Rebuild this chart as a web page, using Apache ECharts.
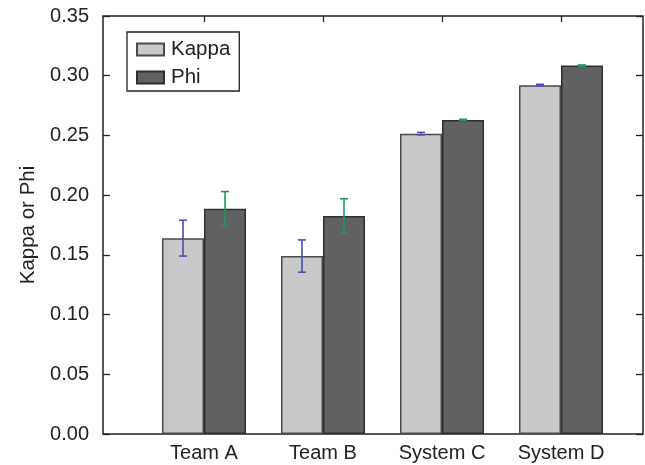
<!DOCTYPE html>
<html>
<head>
<meta charset="utf-8">
<script src="https://cdn.jsdelivr.net/npm/echarts@6/dist/echarts.min.js"></script>
<style>
  html, body { margin: 0; padding: 0; background: #fff; }
  #chart { width: 645px; height: 465px; }
</style>
</head>
<body>
<div id="chart"></div>
<script>
// data
const categories = ["Team A", "Team B", "System C", "System D"];
const kappa = [0.164, 0.149, 0.2515, 0.292];
const phi = [0.1887, 0.1825, 0.263, 0.3085];
const kappaLow = [0.149, 0.1355, 0.2505, 0.2912];
const kappaHigh = [0.179, 0.1625, 0.2525, 0.2928];
const phiLow = [0.1745, 0.168, 0.2625, 0.308];
const phiHigh = [0.203, 0.197, 0.2635, 0.309];
const yTicks = [0, 0.05, 0.1, 0.15, 0.2, 0.25, 0.3, 0.35];

const font = "Liberation Sans, Arial, sans-serif";
const barW = 42;

const chart = echarts.init(document.getElementById("chart"));

// error bar, offset to left (kappa) or right (phi) half of the group
function errorBar(color, shift) {
  return function (params, api) {
    const x = api.coord([api.value(0), 0])[0] + shift;
    const lo = api.coord([api.value(0), api.value(1)])[1];
    const hi = api.coord([api.value(0), api.value(2)])[1];
    const cap = 4;
    const style = { stroke: color, lineWidth: 1.6 };
    return {
      type: "group",
      children: [
        { type: "line", shape: { x1: x, y1: lo, x2: x, y2: hi }, style: style },
        { type: "line", shape: { x1: x - cap, y1: lo, x2: x + cap, y2: lo }, style: style },
        { type: "line", shape: { x1: x - cap, y1: hi, x2: x + cap, y2: hi }, style: style },
      ],
    };
  };
}

const option = {
  animation: false,
  textStyle: { fontFamily: font },
  legend: {
    left: 127,
    top: 32,
    orient: "vertical",
    data: ["Kappa", "Phi"],
    icon: "rect",
    itemWidth: 27,
    itemHeight: 12,
    itemGap: 7,
    padding: [7, 9, 3, 9],
    borderColor: "#222",
    borderWidth: 1.3,
    backgroundColor: "#fff",
    textStyle: { fontFamily: font, fontSize: 20.5, color: "#222", padding: [0, 0, 0, 2] },
  },
  grid: [
    // frame
    { left: 103, right: 2, top: 16, bottom: 31, show: true, borderColor: "#222", borderWidth: 1.5, backgroundColor: "transparent" },
    // bars
    { left: 144.5, right: 24.5, top: 16, bottom: 31 },
  ],
  xAxis: [
    { gridIndex: 0, type: "value", show: false, min: 0, max: 1 },
    {
      gridIndex: 1,
      type: "category",
      data: categories,
      position: "bottom",
      axisLine: { show: false },
      axisTick: { show: false },
      axisLabel: { fontFamily: font, fontSize: 20, color: "#222", margin: 9 },
    },
    {
      gridIndex: 1,
      type: "category",
      data: categories,
      position: "top",
      axisLine: { show: false },
      axisTick: { show: true, inside: true, alignWithLabel: true, length: 6, lineStyle: { color: "#222", width: 1.3 } },
      axisLabel: { show: false },
    },
  ],
  yAxis: [
    {
      gridIndex: 0,
      type: "value",
      min: 0,
      max: 0.35,
      interval: 0.05,
      name: "Kappa or Phi",
      nameLocation: "middle",
      nameGap: 64,
      nameTextStyle: { fontFamily: font, fontSize: 20.5, color: "#222" },
      axisLine: { show: false },
      axisTick: { show: true, inside: true, length: 7, lineStyle: { color: "#222", width: 1.3 } },
      splitLine: { show: false },
      axisLabel: {
        fontFamily: font,
        fontSize: 20,
        color: "#222",
        margin: 14,
        formatter: function (v) {
          const t = yTicks.find(function (y) { return Math.abs(y - v) < 1e-9; });
          return t === undefined ? "" : t.toFixed(2);
        },
      },
    },
    {
      gridIndex: 0,
      type: "value",
      position: "right",
      min: 0,
      max: 0.35,
      interval: 0.05,
      axisLine: { show: false },
      axisTick: { show: true, inside: true, length: 7, lineStyle: { color: "#222", width: 1.3 } },
      axisLabel: { show: false },
      splitLine: { show: false },
    },
    { gridIndex: 1, type: "value", min: 0, max: 0.35, show: false, splitLine: { show: false } },
  ],
  series: [
    {
      name: "Kappa",
      type: "bar",
      xAxisIndex: 1,
      yAxisIndex: 2,
      data: kappa,
      barWidth: barW,
      barGap: "0%",
      itemStyle: { color: "#c8c9cb", borderColor: "#4a4a4a", borderWidth: 1.5 },
    },
    {
      name: "Phi",
      type: "bar",
      xAxisIndex: 1,
      yAxisIndex: 2,
      data: phi,
      barWidth: barW,
      barGap: "0%",
      itemStyle: { color: "#616163", borderColor: "#2e2e2e", borderWidth: 1.5 },
    },
    {
      type: "custom",
      xAxisIndex: 1,
      yAxisIndex: 2,
      renderItem: errorBar("#4a4fa8", -barW / 2),
      data: categories.map(function (c, i) { return [i, kappaLow[i], kappaHigh[i]]; }),
      z: 10,
    },
    {
      type: "custom",
      xAxisIndex: 1,
      yAxisIndex: 2,
      renderItem: errorBar("#1f9a5c", barW / 2),
      data: categories.map(function (c, i) { return [i, phiLow[i], phiHigh[i]]; }),
      z: 10,
    },
  ],
};

chart.setOption(option);
</script>
</body>
</html>
